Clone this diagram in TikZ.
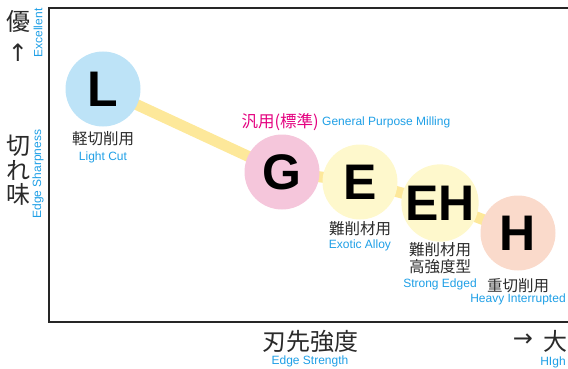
\documentclass[tikz,border=0pt]{standalone}
\usepackage{fontspec}
\setmainfont{Liberation Sans}
\newfontfamily\jp{Noto Sans CJK JP}
\newfontfamily\sym{DejaVu Sans}
\definecolor{cL}{HTML}{BDE3F7}
\definecolor{cG}{HTML}{F5C6DB}
\definecolor{cE}{HTML}{FEF8CC}
\definecolor{cH}{HTML}{FADACB}
\definecolor{band}{HTML}{FDE89A}
\definecolor{lblue}{HTML}{1E9FE6}
\definecolor{mag}{HTML}{E4007F}
\definecolor{jtxt}{HTML}{2A2A2A}
\tikzset{
  ball/.style={circle, minimum size=75pt, inner sep=0pt, font=\fontsize{50}{50}\selectfont\bfseries},
  jlab/.style={font=\jp\fontsize{15.5}{17}\selectfont, text=jtxt, inner sep=0pt},
  elab/.style={font=\fontsize{12}{13}\selectfont, text=lblue, inner sep=0pt},
  big/.style={font=\jp\fontsize{24}{26}\selectfont, text=jtxt, inner sep=0pt},
  arr/.style={font=\sym\fontsize{24}{26}\selectfont, text=jtxt, inner sep=0pt},
  axis/.style={line width=1.6pt, black!85}
}
\begin{document}
\begin{tikzpicture}[x=1pt,y=-1pt]
\useasboundingbox (0,0) rectangle (568,369);
% axes
\coordinate (tl) at (49,8);
\coordinate (tr) at (568,8);
\coordinate (bl) at (49,322);
\coordinate (br) at (568,322);
\draw[axis] (tr) -- (tl) -- (bl) -- (br);
% circles
\coordinate (pL) at (103,89);
\coordinate (pG) at (282,172);
\coordinate (pE) at (360,182);
\coordinate (pEH) at (440,203);
\coordinate (pH) at (518,233);
\draw[band, line width=11pt] (pL) -- (pG) -- (pE) -- (pEH) -- (pH);
\node[ball, fill=cL] (L) at (pL) {L};
\node[ball, fill=cG] (G) at (pG) {G};
\node[ball, fill=cE] (E) at (pE) {E};
\node[ball, fill=cE] (EH) at (pEH) {EH};
\node[ball, fill=cH] (H) at (pH) {H};
% labels
\node[jlab] (l1) at (103,139) {軽切削用};
\node[elab] (l2) at (103,157) {Light Cut};
\node[jlab, text=mag, anchor=east, font=\jp\fontsize{16.5}{18}\selectfont] (g1) at (319,122) {汎用(標準)};
\node[elab, anchor=west] (g2) at (322,122) {General Purpose Milling};
\node[jlab] (e1) at (360,229) {難削材用};
\node[elab] (e2) at (360,245) {Exotic Alloy};
\node[jlab] (eh1) at (440,250) {難削材用};
\node[jlab] (eh2) at (440,267) {高強度型};
\node[elab] (eh3) at (440,284) {Strong Edged};
\node[jlab] (h1) at (518,286) {重切削用};
\node[elab] (h2) at (518,299) {Heavy Interrupted};
% left axis labels
\node[big] (y1) at (18,21) {優};
\node[arr] (y2) at (18,53) {↑};
\node[big] (y3) at (18,146) {切};
\node[big] (y4) at (18,170) {れ};
\node[big] (y5) at (18,194) {味};
\node[elab, rotate=90] (y6) at (38,33) {Excellent};
\node[elab, rotate=90] (y7) at (38,174) {Edge Sharpness};
% bottom axis labels
\node[big] (x1) at (310,341) {刃先強度};
\node[elab] (x2) at (310,361) {Edge Strength};
\node[arr] (x3) at (523,340) {→};
\node[big] (x4) at (555,341) {大};
\node[elab] (x5) at (553,362) {HIgh};
\end{tikzpicture}
\end{document}
